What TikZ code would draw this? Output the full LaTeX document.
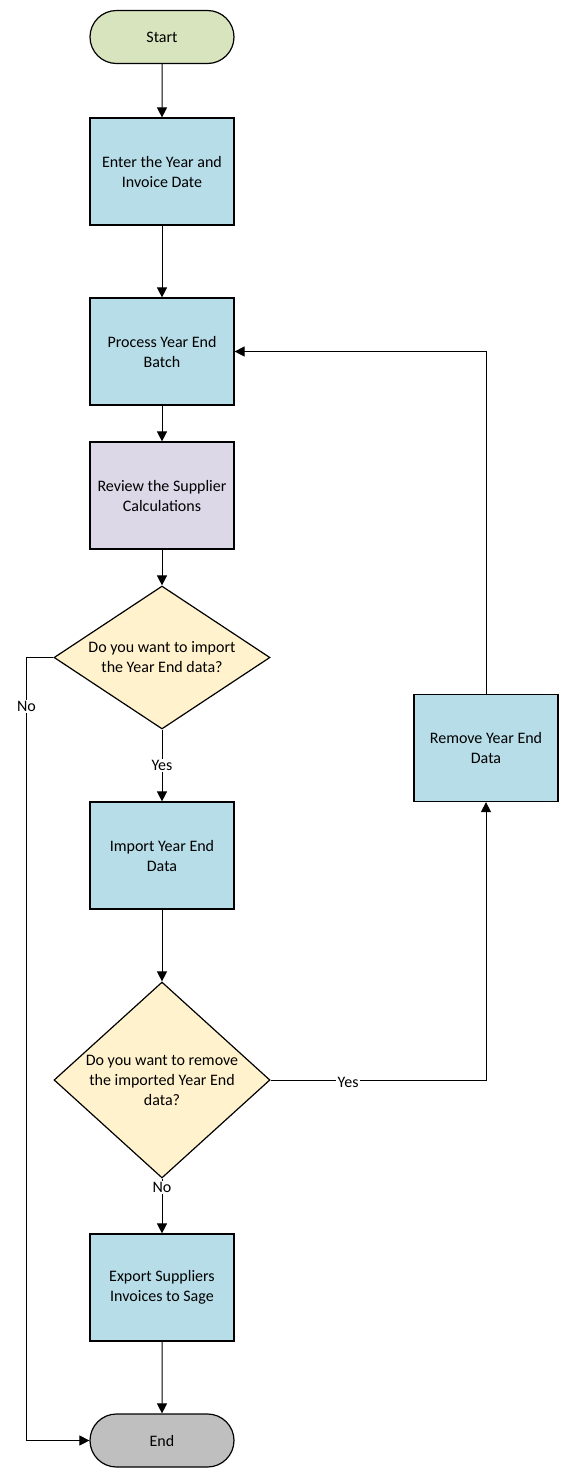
\documentclass[tikz,border=0pt]{standalone}
\usepackage{fontspec}
\setmainfont{Carlito}
\usetikzlibrary{shapes.geometric,shapes.misc,arrows.meta}

\definecolor{startgreen}{RGB}{215,228,189}
\definecolor{stepblue}{RGB}{183,221,232}
\definecolor{reviewlilac}{RGB}{221,216,232}
\definecolor{askyellow}{RGB}{255,242,204}
\definecolor{endgrey}{RGB}{191,191,191}

\begin{document}
\begin{tikzpicture}[x=0.75pt,y=0.75pt,
  every node/.style={font=\fontsize{12}{15}\selectfont, align=center},
  terminal/.style={draw=black, line width=0.9pt, rounded rectangle, minimum width=108pt, minimum height=39.75pt, inner sep=0pt},
  stepbox/.style={draw=black, line width=0.9pt, fill=stepblue, rectangle, minimum width=108pt, minimum height=80.25pt, inner sep=0pt},
  askbox/.style={draw=black, line width=0.9pt, fill=askyellow, diamond, minimum width=162pt, inner sep=0pt},
  link/.style={draw=black, line width=0.75pt, -{Triangle[width=7.5pt,length=7.5pt]}},
  lbl/.style={fill=white, inner sep=1pt, font=\fontsize{12}{13}\selectfont}]
\useasboundingbox (0,0) rectangle (569,-1479);
\node[terminal, fill=startgreen] (start) at (162,-37) {Start};
\node[stepbox] (enter) at (162,-171.5) {Enter the Year and\\Invoice Date};
\node[stepbox] (process) at (162,-351.5) {Process Year End\\Batch};
\node[stepbox, fill=reviewlilac] (review) at (162,-495.5) {Review the Supplier\\Calculations};
\node[askbox, minimum height=107.25pt, shape aspect=1.51] (askimport) at (162,-657.5) {Do you want to import\\the Year End data?};
\node[stepbox] (import) at (162,-855.5) {Import Year End\\Data};
\node[askbox, minimum height=147pt, shape aspect=1.1] (askremove) at (162,-1080) {Do you want to remove\\the imported Year End\\data?};
\node[stepbox] (export) at (162,-1287.5) {Export Suppliers\\Invoices to Sage};
\node[terminal, fill=endgrey] (end) at (162,-1440.5) {End};
\node[stepbox] (remove) at (486,-748) {Remove Year End\\Data};
\draw[link] (start) -- (enter);
\draw[link] (enter) -- (process);
\draw[link] (process) -- (review);
\draw[link] (review) -- (askimport);
\draw[link] (askimport) -- node[lbl]{Yes} (import);
\draw[link] (import) -- (askremove);
\draw[link] (askremove) -- node[lbl,pos=0.16]{No} (export);
\draw[link] (export) -- (end);
\draw[link] (askremove.east) -| node[lbl,pos=0.18,yshift=-2pt]{Yes} (remove.south);
\draw[link] (remove.north) |- (process.east);
\draw[link] (askimport.west) -- ++(-27,0) coordinate (nobend) -- node[lbl,pos=0.063]{No} (nobend |- end.west) -- (end.west);
\end{tikzpicture}
\end{document}
